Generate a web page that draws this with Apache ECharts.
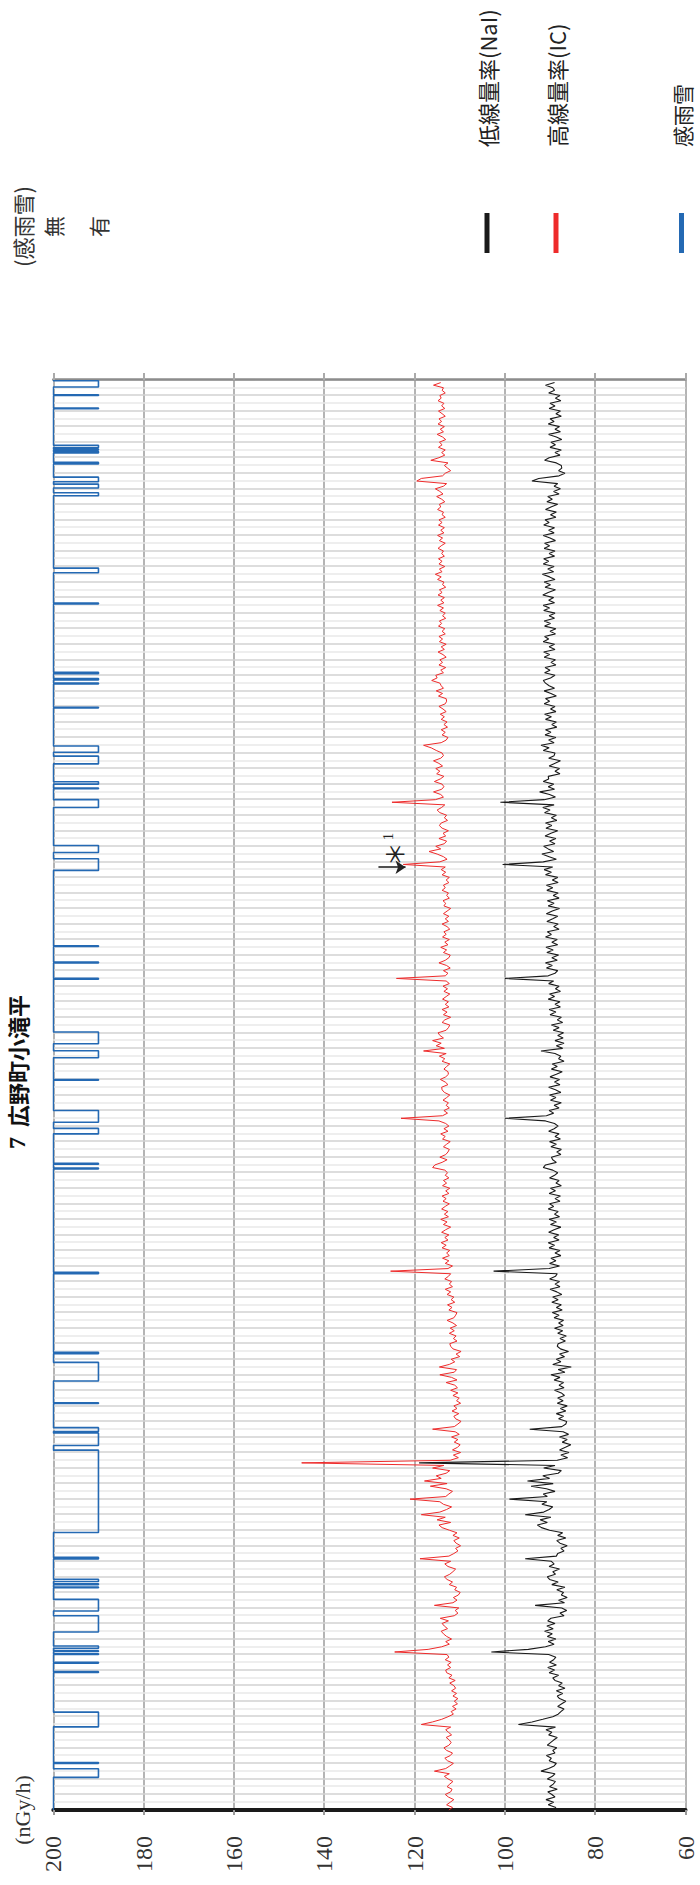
<!DOCTYPE html>
<html><head><meta charset="utf-8">
<script src="https://cdn.jsdelivr.net/npm/echarts/dist/echarts.min.js"></script>
<style>
html,body{margin:0;padding:0;background:#fff;width:700px;height:1885px;overflow:hidden;}
#chart{position:absolute;left:0;top:0;width:1885px;height:700px;transform-origin:0 0;transform:translateY(1885px) rotate(-90deg);}
</style></head><body><div id="chart"></div>
<script>
// Time axis: days from start of the half-year period, three readings per day
const totalDays = 184;
const readingsPerDay = 3;

// 高線量率(IC) nGy/h, three readings per day (5 days per row)
const icValues = [
 112.4,111.6,112.9,112.1,111.3,112.5,113.2,112.0,111.7,112.8,112.2,111.5,112.6,113.4,112.3,
 115.6,113.1,112.2,111.4,112.7,113.3,112.1,111.6,112.9,113.5,112.4,111.9,112.3,113.0,111.8,
 112.5,113.1,112.0,118.5,116.0,114.0,112.6,111.4,111.9,110.8,111.6,110.5,111.2,110.4,111.5,
 110.7,111.8,110.9,111.3,112.2,111.0,112.4,111.7,112.9,113.1,112.0,112.7,111.9,113.2,112.4,
 112.8,124.4,117.0,114.0,112.3,113.1,111.8,112.9,113.6,114.1,112.7,113.4,113.9,112.5,114.3,
 111.2,110.4,111.0,110.2,115.6,111.5,110.6,111.4,110.3,109.9,111.1,110.7,112.3,111.6,112.8,
 113.4,112.2,111.5,110.9,112.6,113.3,112.0,118.8,112.4,111.3,110.4,110.9,109.8,110.8,111.3,
 110.1,111.5,110.6,112.3,113.9,114.6,112.0,115.0,113.2,118.5,114.4,112.9,111.8,113.6,114.4,
 121.0,113.1,112.4,111.6,113.0,116.5,112.8,117.8,114.1,115.2,113.0,112.2,116.0,113.5,145.0,
 112.1,110.3,111.4,109.8,111.6,110.5,109.9,111.2,110.4,111.8,110.1,111.0,116.0,111.2,110.4,
 109.7,110.9,111.3,110.2,111.7,110.6,111.3,109.8,110.7,110.1,111.5,110.4,112.0,110.5,111.1,
 113.0,110.6,111.8,114.4,111.2,110.7,114.5,112.3,111.1,111.9,110.0,110.8,109.7,111.5,112.0,
 112.2,110.6,111.4,110.8,112.3,111.2,112.1,110.7,111.5,112.8,111.3,110.9,110.6,112.4,111.7,
 112.7,111.1,111.9,111.3,112.8,112.0,113.2,111.6,112.3,111.8,113.3,112.5,112.0,125.3,112.6,
 111.6,113.2,112.4,113.8,112.3,112.9,112.2,113.9,113.0,114.1,112.6,113.3,112.4,114.0,113.1,
 112.0,113.6,112.8,114.2,112.5,113.4,112.6,114.0,113.2,112.3,113.7,113.0,113.9,112.4,113.1,
 112.2,113.8,112.9,113.6,112.4,113.2,112.7,113.3,116.0,115.5,113.9,112.8,114.4,113.1,112.6,
 112.3,113.6,112.9,112.1,113.8,113.2,114.2,112.6,113.5,112.4,113.1,114.6,123.0,113.8,112.7,
 113.5,112.3,113.0,112.5,113.7,112.9,112.2,113.4,113.9,114.0,112.6,113.2,114.3,113.1,112.5,
 112.6,113.5,112.9,112.2,113.9,113.3,114.5,113.0,118.0,113.4,115.2,114.1,116.0,113.6,114.4,
 114.8,113.0,112.5,112.2,113.9,113.3,112.0,113.6,112.8,113.9,112.4,113.2,112.5,113.8,113.0,
 112.2,113.5,112.7,113.7,112.3,113.0,124.0,113.2,112.6,113.6,112.1,112.9,114.6,113.2,112.4,
 112.1,113.6,112.9,114.2,112.6,113.3,112.3,113.8,113.0,113.5,112.2,112.8,113.9,112.5,113.2,
 112.4,113.6,112.8,112.0,113.5,113.1,113.7,112.3,112.9,112.5,113.9,113.2,113.6,112.4,113.0,
 112.3,113.9,113.1,114.1,113.2,122.5,114.4,112.8,113.6,115.0,116.8,114.2,115.3,113.4,112.9,
 114.6,113.1,113.7,112.5,113.9,114.5,114.1,112.7,113.4,112.9,114.4,115.0,114.0,113.3,125.0,
 115.4,113.6,114.2,115.8,114.0,113.5,113.9,115.6,114.3,113.5,115.1,114.4,115.3,113.8,114.6,
 115.8,114.2,113.6,113.9,115.2,116.3,118.0,114.1,113.0,112.6,113.9,113.2,114.1,112.7,113.5,
 112.8,114.1,113.4,114.3,113.0,113.7,114.6,113.2,112.9,113.0,114.7,113.8,115.2,113.6,114.1,
 114.4,116.2,115.0,115.3,113.6,114.2,113.1,114.6,113.8,114.4,113.0,113.7,114.8,113.4,114.1,
 113.0,114.5,113.8,114.6,113.2,113.9,113.3,114.7,114.0,114.5,113.1,113.8,113.2,114.4,113.6,
 114.9,113.5,114.2,113.4,114.8,113.9,114.5,113.1,113.8,113.5,114.9,114.1,115.4,113.9,114.5,
 113.3,114.6,113.9,114.7,113.4,114.0,113.6,114.8,114.1,113.2,114.5,113.8,114.9,113.5,114.2,
 113.4,114.7,113.9,114.6,113.2,113.9,113.6,114.9,114.2,114.5,113.3,114.0,115.1,113.7,114.4,
 115.4,113.6,112.9,119.5,118.5,113.8,113.2,112.0,112.7,113.4,112.6,116.4,114.6,113.3,114.0,
 113.2,114.7,113.9,114.5,113.1,113.8,115.0,113.6,114.3,113.4,114.8,114.0,114.6,113.2,113.9,
 114.7,113.3,114.0,113.5,114.8,114.1,114.4,113.2,113.9,113.6,115.8,114.2
];

// 低線量率(NaI) nGy/h, three readings per day (5 days per row)
const naiValues = [
 89.8,88.7,90.4,89.2,90.9,88.9,89.6,90.5,88.4,90.1,89.3,88.8,90.6,89.5,88.9,
 92.0,90.3,89.1,88.6,90.2,89.7,90.8,88.9,89.4,88.5,90.6,89.9,89.2,88.4,90.3,
 89.6,90.9,88.8,97.0,94.0,91.6,89.4,88.2,87.6,86.9,88.3,87.4,86.5,87.9,88.4,
 87.2,88.6,86.7,88.1,87.3,88.9,89.4,88.1,90.2,89.0,90.5,88.6,90.1,89.2,88.7,
 90.3,103.0,94.8,91.0,89.1,90.4,88.7,90.6,89.5,91.2,89.3,90.7,88.9,90.5,89.8,
 86.9,87.8,86.3,87.4,93.3,86.8,88.1,86.2,87.5,87.0,88.5,86.7,89.6,88.2,90.1,
 90.6,88.8,89.4,87.9,90.2,89.1,89.7,95.5,88.6,88.3,86.9,87.6,86.2,87.8,88.5,
 86.5,88.3,87.2,90.1,91.9,92.8,90.6,92.2,89.8,95.5,91.4,90.2,89.4,91.8,90.7,
 99.0,90.6,91.5,88.9,90.8,94.2,89.3,95.0,90.1,91.6,88.2,87.5,91.4,88.9,119.0,
 88.4,86.1,87.6,85.8,87.9,86.6,85.4,87.3,86.2,87.9,85.9,87.1,94.5,87.4,86.5,
 86.3,88.1,87.0,88.6,86.5,87.7,86.2,88.4,87.1,88.3,86.8,87.5,89.0,86.9,88.0,
 87.0,89.1,87.8,89.8,86.7,88.2,85.3,89.4,87.6,88.6,86.8,87.9,85.9,87.7,88.4,
 88.2,86.6,87.8,86.4,88.3,87.2,89.0,87.1,88.1,87.0,89.1,88.0,89.5,87.3,88.6,
 87.5,89.6,88.2,89.4,87.4,88.5,90.0,87.8,88.9,87.9,90.1,88.8,88.4,102.5,90.2,
 87.9,90.1,88.7,89.8,87.6,88.9,87.8,90.2,89.0,90.4,88.0,89.2,88.1,90.3,89.1,
 87.6,89.9,88.6,90.2,87.9,89.0,88.2,90.4,89.2,90.1,87.8,88.9,87.7,90.2,88.8,
 89.9,87.5,88.7,88.0,90.1,89.0,88.3,89.4,91.5,91.0,88.6,89.4,89.7,87.6,88.5,
 87.5,89.8,88.6,90.1,87.7,88.9,88.0,90.3,89.1,88.2,89.0,91.0,100.0,90.8,89.2,
 90.2,88.0,89.1,87.5,89.9,88.7,90.1,87.6,88.8,90.3,87.8,89.0,87.9,90.0,88.6,
 87.3,89.7,88.4,89.5,86.9,88.1,87.6,88.9,92.0,87.2,88.6,86.9,88.9,87.1,88.3,
 87.0,89.3,88.0,89.7,87.2,88.4,87.5,90.0,88.7,90.2,87.7,88.9,87.8,90.4,89.0,
 90.1,87.7,88.8,88.0,90.3,89.2,100.0,90.4,88.9,88.3,90.8,89.5,91.0,88.4,89.6,
 88.1,90.7,89.3,90.9,88.3,89.6,88.4,91.0,89.7,90.6,88.0,89.2,88.2,90.7,89.4,
 88.3,90.8,89.5,87.9,90.4,89.1,90.6,88.0,89.3,88.2,90.7,89.4,90.8,88.2,89.5,
 88.3,91.0,89.7,91.3,89.4,100.5,91.5,88.6,90.2,91.8,89.2,90.4,91.4,88.9,90.1,
 88.7,91.1,89.8,88.3,90.9,89.6,91.0,88.5,89.7,88.6,91.2,90.0,91.6,89.1,101.0,
 91.3,88.8,90.1,92.3,89.0,90.4,89.2,91.5,90.3,90.4,87.8,88.9,87.9,90.2,89.0,
 87.7,90.3,89.1,88.9,91.5,90.2,92.0,89.1,90.3,88.7,91.1,89.8,91.0,88.5,89.6,
 88.6,91.0,89.7,91.2,88.7,89.9,88.9,91.3,90.1,91.0,88.6,89.8,91.3,89.0,90.2,
 91.0,91.5,89.9,88.9,91.2,90.0,91.1,88.7,89.8,88.8,91.3,90.1,91.4,88.9,90.2,
 89.0,91.5,90.3,91.2,88.8,90.0,88.7,91.2,89.9,91.3,89.0,90.2,88.9,91.4,90.1,
 91.5,89.0,90.3,89.2,91.6,90.4,88.8,91.1,89.9,91.3,88.9,90.1,91.7,89.2,90.5,
 89.1,91.5,90.3,91.4,89.0,90.2,88.9,91.3,90.1,91.2,88.8,90.0,91.5,89.1,90.3,
 89.0,91.4,90.2,91.1,88.7,89.9,88.6,91.0,89.8,88.3,90.7,89.5,90.5,88.0,89.2,
 87.7,89.1,88.3,94.0,92.5,88.0,86.7,88.1,87.4,87.5,88.6,91.2,90.2,87.8,88.9,
 87.5,90.0,88.8,89.8,87.4,88.6,90.3,87.7,88.9,87.9,90.4,89.1,90.0,87.5,88.7,
 87.7,90.2,88.9,90.0,87.6,88.8,87.8,90.3,89.0,89.4,91.0,89.0
];

// 感雨雪 (rain/snow detected) periods, [start day, end day]
const rainPeriods = [
 [4.2,5.3],[6.0,6.1],[10.7,12.6],[17.7,17.8],[18.9,19.0],[20.0,20.1],[20.4,20.5],[20.8,21.1],
 [22.9,25.0],[25.6,27.1],[28.6,28.7],[29.0,29.1],[29.4,29.7],[32.3,32.5],[35.7,46.3],[46.9,48.5],
 [48.7,49.2],[52.3,52.4],[55.2,57.6],[58.7,58.9],[69.0,69.2],[82.5,82.6],[83.1,83.2],[87.0,87.7],
 [88.5,90.0],[93.9,94.0],[96.8,97.7],[98.6,100.1],[106.9,107.0],[109.0,109.1],[111.1,111.2],
 [120.9,122.4],[123.2,124.1],[129.0,130.0],[131.4,131.5],[132.0,132.3],[134.6,135.6],[136.1,136.9],
 [141.8,141.9],[144.9,145.0],[145.4,145.6],[146.2,146.4],[155.2,155.3],[159.2,159.8],[169.1,169.5],
 [170.1,170.6],[170.9,171.5],[173.2,173.4],[174.6,174.8],[175.0,175.1],[175.3,175.6],[180.3,180.4],
 [182.0,182.1],[183.1,183.9]
];

const valueTicks = [60, 80, 100, 120, 140, 160, 180, 200];
const rainLabels = ['無', '有'];
const seriesNames = ['低線量率(NaI)', '高線量率(IC)', '感雨雪'];
const titleNumber = '7';
const titleText = '広野町小滝平';
const unitText = '(nGy/h)';
const rainAxisName = '(感雨雪)';
// annotation ＊1: arrow position (day, value from, value to) and label position
const note1 = { day: 121.3, from: 128.0, to: 122.0, labelDay: 123.6, labelValue: 124.6 };

const icData = icValues.map((v, i) => [i / readingsPerDay, v]);
const naiData = naiValues.map((v, i) => [i / readingsPerDay, v]);
const rainData = [[0, 0]];
rainPeriods.forEach(([s, e]) => { rainData.push([s, 0], [s, 1], [e, 1], [e, 0]); });
rainData.push([totalDays, 0]);

const serif = 'Liberation Serif';
const jp = 'Noto Sans CJK JP';

const chart = echarts.init(document.getElementById('chart'), null, { renderer: 'svg' });
chart.setOption({
  animation: false,
  backgroundColor: '#fff',
  title: {
    text: '{n|' + titleNumber + '}  {t|' + titleText + '}',
    left: 808, top: 0, textAlign: 'center',
    textStyle: { rich: {
      n: { fontSize: 24, fontWeight: 'bold', fontFamily: serif, color: '#111' },
      t: { fontSize: 22, fontFamily: jp, color: '#111' }
    } }
  },
  legend: [
    { data: seriesNames.slice(0, 2), orient: 'vertical', left: 1627, top: 471, itemWidth: 40, itemHeight: 5,
      itemGap: 47, icon: 'rect', selectedMode: false,
      textStyle: { fontFamily: jp, fontSize: 22, color: '#222', padding: [0, 0, 0, 61] } },
    { data: seriesNames.slice(2), orient: 'vertical', left: 1627, top: 666, itemWidth: 40, itemHeight: 5,
      icon: 'rect', selectedMode: false,
      textStyle: { fontFamily: jp, fontSize: 21, color: '#222', padding: [0, 0, 0, 61] } }
  ],
  grid: { left: 75, right: 380, top: 53.3, bottom: 14.5, containLabel: false },
  xAxis: {
    type: 'value', min: 0, max: totalDays, interval: 1,
    axisLine: { show: false }, axisTick: { show: false }, axisLabel: { show: false },
    splitLine: { show: true, lineStyle: { color: ['#d2d2d2', '#e8e8e8'], width: 1.6 } }
  },
  yAxis: [
    { type: 'value', min: valueTicks[0], max: valueTicks[valueTicks.length - 1], interval: 20, position: 'left',
      name: unitText, nameLocation: 'end', nameGap: 20,
      nameTextStyle: { fontFamily: serif, fontSize: 22, color: '#333', align: 'center' },
      axisLine: { show: true, lineStyle: { color: '#1a1a1a', width: 4 } },
      axisTick: { show: true, length: 5, lineStyle: { color: '#999', width: 2 } },
      axisLabel: { fontFamily: serif, fontSize: 24, color: '#333', margin: 26 },
      splitLine: { show: true, lineStyle: { color: '#b4b4b4', width: 2 } } },
    { type: 'value', min: valueTicks[0], max: valueTicks[valueTicks.length - 1], interval: 20, position: 'right',
      axisLine: { show: true, lineStyle: { color: '#8c8c8c', width: 2.5 } },
      axisTick: { show: true, length: 7, lineStyle: { color: '#aaa', width: 2 } },
      axisLabel: { show: false }, splitLine: { show: false } },
    { type: 'value', min: 0, max: 14, interval: 1, inverse: true, position: 'right', offset: 113,
      name: rainAxisName, nameLocation: 'start', nameGap: 20,
      nameTextStyle: { fontFamily: jp, fontSize: 22, color: '#333', align: 'left' },
      axisLine: { show: false }, axisTick: { show: false }, splitLine: { show: false },
      axisLabel: { margin: 30, fontFamily: jp, fontSize: 21, color: '#333',
        formatter: v => (rainLabels[v] !== undefined ? rainLabels[v] : '') } }
  ],
  series: [
    { name: seriesNames[0], type: 'line', data: naiData, yAxisIndex: 0, showSymbol: false, symbol: 'none',
      color: '#1a1a1a', lineStyle: { width: 1.1 }, z: 4 },
    { name: seriesNames[1], type: 'line', data: icData, yAxisIndex: 0, showSymbol: false, symbol: 'none',
      color: '#ee2b2b', lineStyle: { width: 1.0 }, z: 3,
      markLine: { silent: true, symbol: ['none', 'arrow'], symbolSize: 10,
        lineStyle: { color: '#222', width: 1.6, type: 'solid' }, label: { show: false },
        data: [[{ coord: [note1.day, note1.from] }, { coord: [note1.day, note1.to] }]] },
      markPoint: { silent: true,
        data: [{ coord: [note1.labelDay, note1.labelValue], symbol: 'circle', symbolSize: 1,
          itemStyle: { color: 'rgba(0,0,0,0)' },
          label: { show: true, position: 'inside', formatter: '{a|＊}{b|1}',
            rich: { a: { fontSize: 24, fontFamily: jp, color: '#222' },
                    b: { fontSize: 15, fontFamily: serif, color: '#222', padding: [0, 0, 12, 2] } } } }] } },
    { name: seriesNames[2], type: 'line', data: rainData, yAxisIndex: 2, showSymbol: false, symbol: 'none',
      color: '#2469b3', lineStyle: { width: 1.6 }, z: 2 }
  ]
});
</script></body></html>
